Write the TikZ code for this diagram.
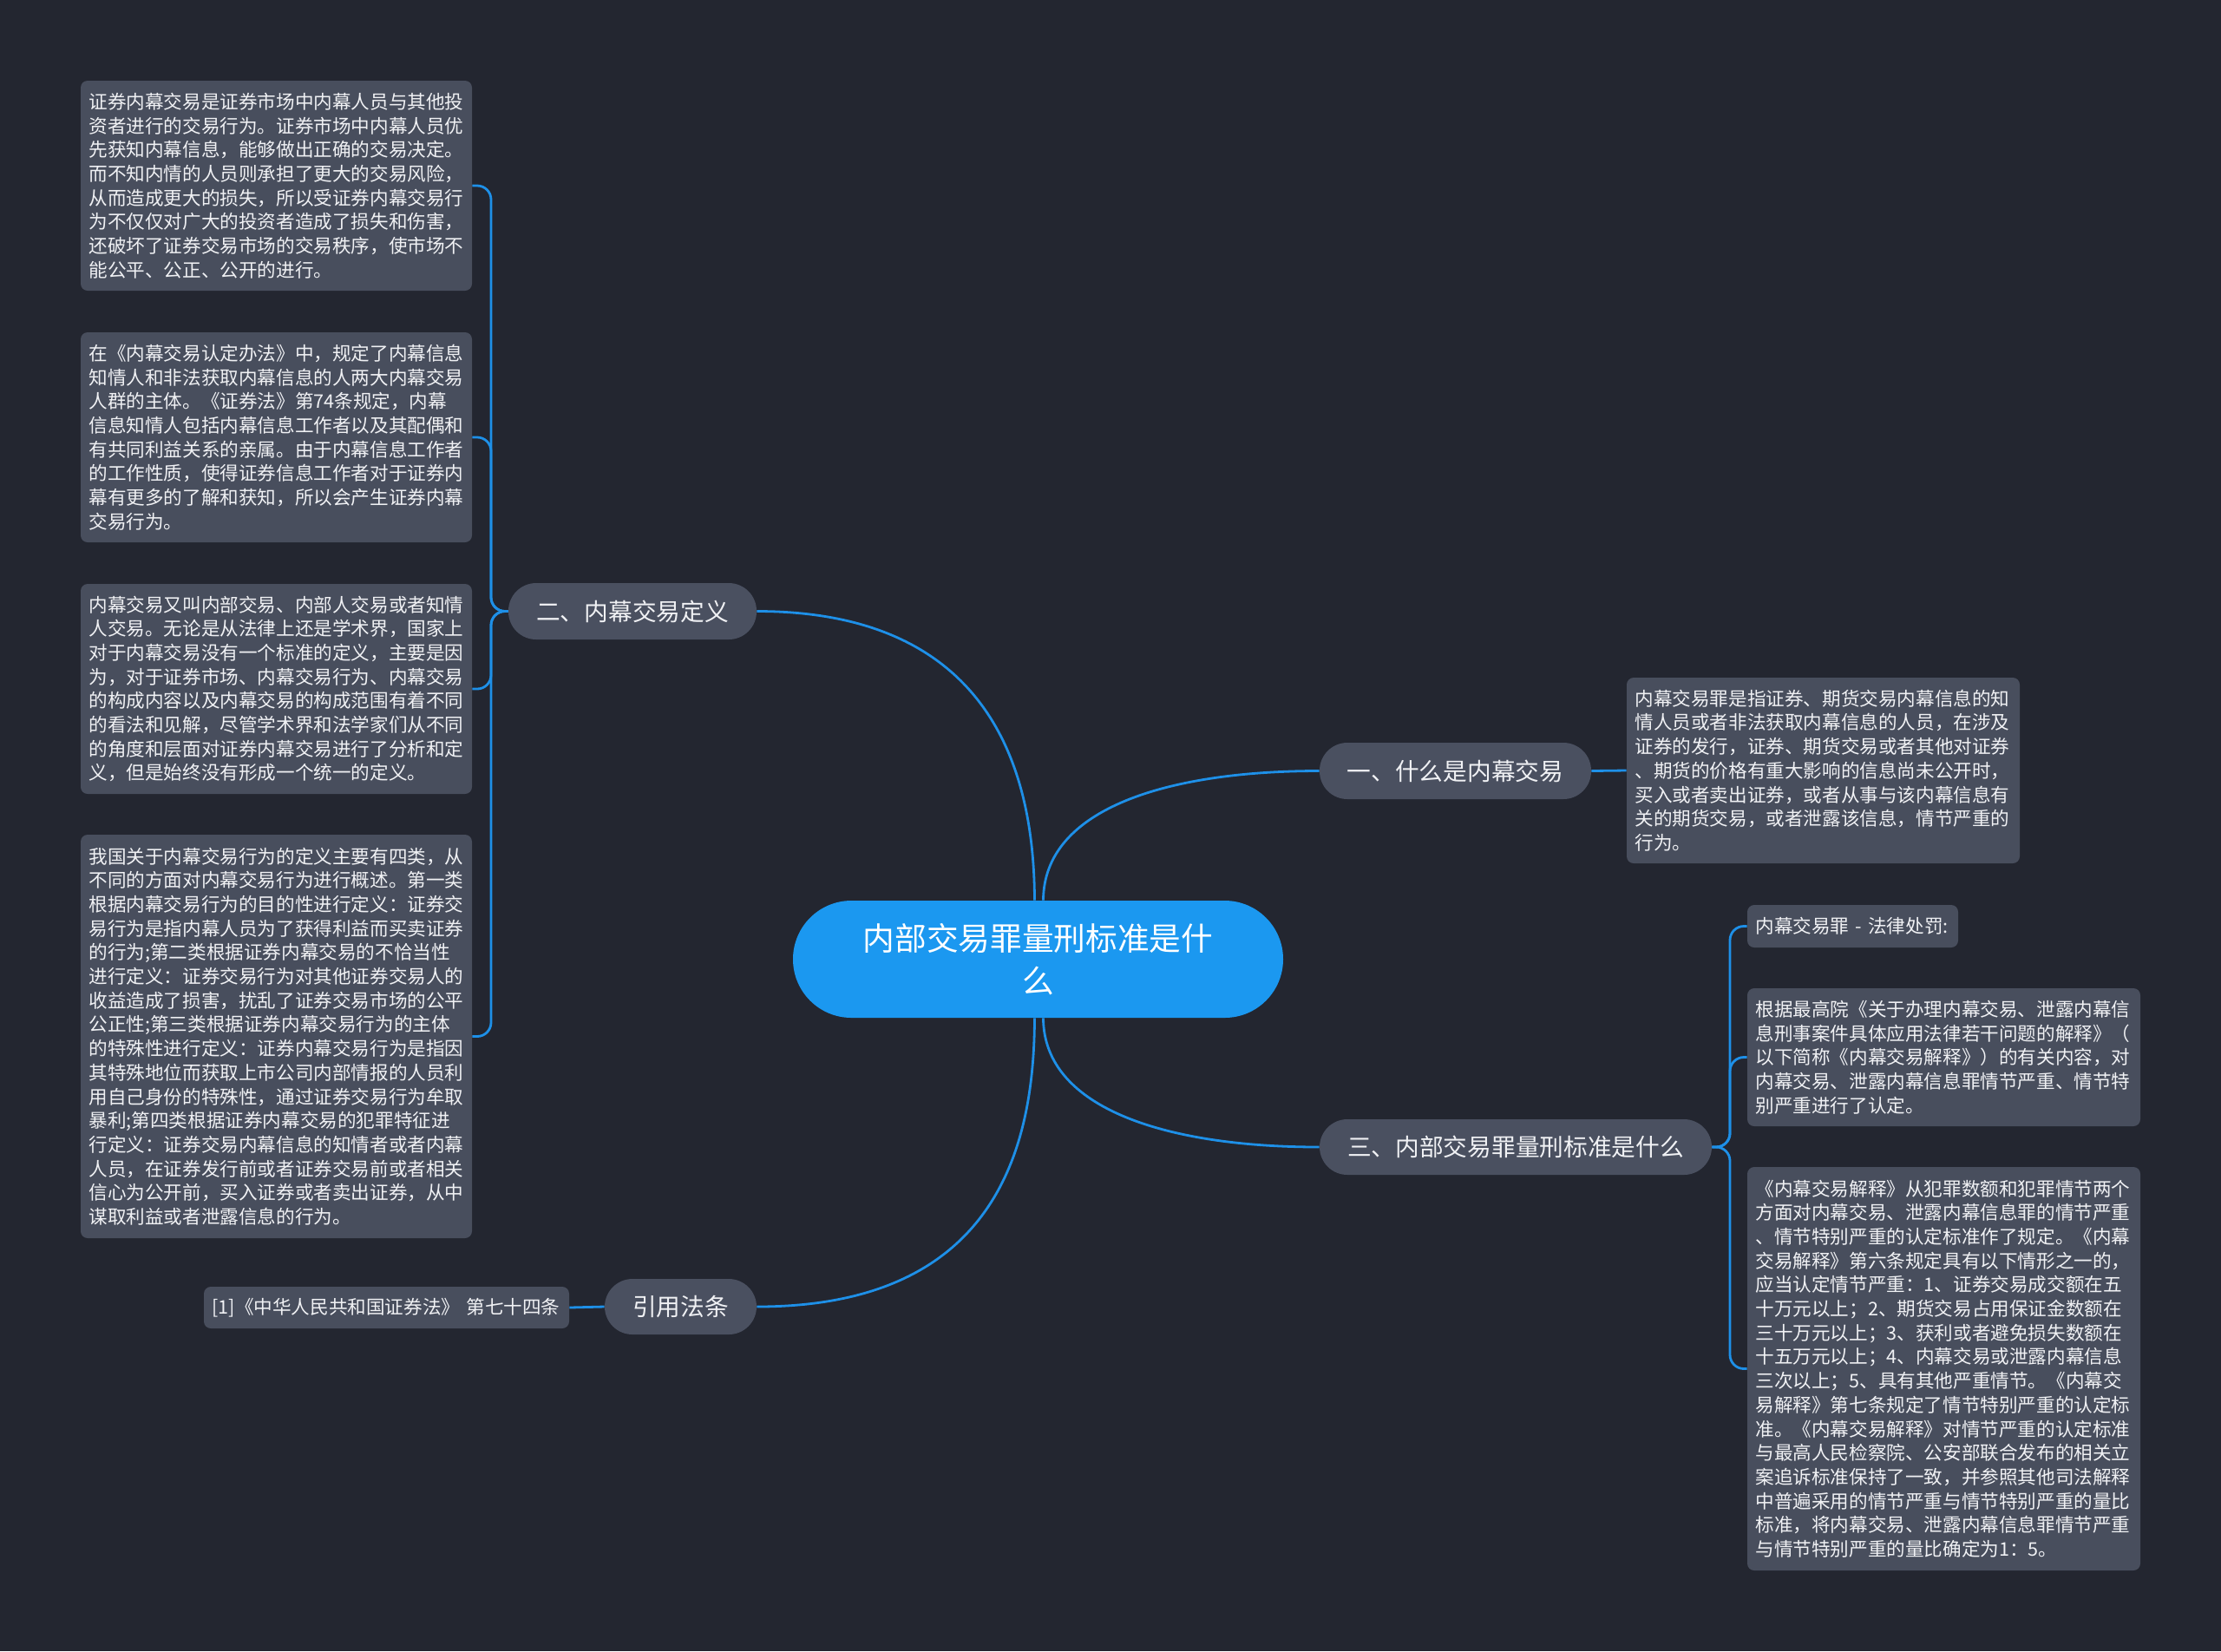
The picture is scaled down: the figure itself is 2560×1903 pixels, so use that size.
\documentclass[tikz,border=0pt]{standalone}
\usepackage{fontspec}
\setmainfont{Noto Sans CJK SC}
\definecolor{bgc}{RGB}{35,38,48}
\definecolor{leafc}{RGB}{72,78,93}
\definecolor{pillc}{RGB}{74,80,96}
\definecolor{txtc}{RGB}{240,241,244}
\definecolor{linec}{RGB}{30,144,232}
\definecolor{rootc}{RGB}{27,152,240}
\begin{document}
\begin{tikzpicture}[x=0.5pt,y=-0.5pt,
  leaf/.style={fill=leafc, rounded corners=4pt, text=txtc, align=left,
    inner xsep=4.7pt, inner ysep=0pt, anchor=center,
    font=\fontsize{10.8pt}{13.85pt}\selectfont},
  pill/.style={fill=pillc, text=txtc, inner sep=0pt, anchor=center,
    rounded corners=16pt, font=\fontsize{13.85pt}{16pt}\selectfont},
  rootbox/.style={fill=rootc, text=white, inner sep=0pt, anchor=center,
    rounded corners=33.7pt, align=center,
    font=\fontsize{18.35pt}{24.5pt}\selectfont},
  link/.style={draw=linec, line width=1.4pt},
  elbow/.style={link, rounded corners=8pt},
]
\fill[bgc] (0,0) rectangle (2560,1903);
\path[use as bounding box] (0,0) rectangle (2560,1903);

% root
\node[rootbox, minimum width=282.5pt, minimum height=67.5pt] (root) at (1196.5,1105.5)
  {内部交易罪量刑标准是什\\么};

% branches
\node[pill, minimum width=143pt, minimum height=32.5pt] (b2) at (729,704.5) {二、内幕交易定义};
\node[pill, minimum width=156.5pt, minimum height=32.5pt] (b1) at (1677.5,888.5) {一、什么是内幕交易};
\node[pill, minimum width=226pt, minimum height=32pt] (b3) at (1747,1322) {三、内部交易罪量刑标准是什么};
\node[pill, minimum width=87.5pt, minimum height=32pt] (b4) at (784.5,1506) {引用法条};

% left leaves
\node[leaf, minimum width=225.5pt, text width=216.1pt, minimum height=121pt] (L1) at (318.5,214) {%
证券内幕交易是证券市场中内幕人员与其他投\\
资者进行的交易行为。证券市场中内幕人员优\\
先获知内幕信息，能够做出正确的交易决定。\\
而不知内情的人员则承担了更大的交易风险，\\
从而造成更大的损失，所以受证券内幕交易行\\
为不仅仅对广大的投资者造成了损失和伤害，\\
还破坏了证券交易市场的交易秩序，使市场不\\
能公平、公正、公开的进行。};

\node[leaf, minimum width=225.5pt, text width=216.1pt, minimum height=121pt] (L2) at (318.5,504) {%
在《内幕交易认定办法》中，规定了内幕信息\\
知情人和非法获取内幕信息的人两大内幕交易\\
人群的主体。《证券法》第74条规定，内幕\\
信息知情人包括内幕信息工作者以及其配偶和\\
有共同利益关系的亲属。由于内幕信息工作者\\
的工作性质，使得证券信息工作者对于证券内\\
幕有更多的了解和获知，所以会产生证券内幕\\
交易行为。};

\node[leaf, minimum width=225.5pt, text width=216.1pt, minimum height=121pt] (L3) at (318.5,794) {%
内幕交易又叫内部交易、内部人交易或者知情\\
人交易。无论是从法律上还是学术界，国家上\\
对于内幕交易没有一个标准的定义，主要是因\\
为，对于证券市场、内幕交易行为、内幕交易\\
的构成内容以及内幕交易的构成范围有着不同\\
的看法和见解，尽管学术界和法学家们从不同\\
的角度和层面对证券内幕交易进行了分析和定\\
义，但是始终没有形成一个统一的定义。};

\node[leaf, minimum width=225.5pt, text width=216.1pt, minimum height=232.5pt] (L4) at (318.5,1194.5) {%
我国关于内幕交易行为的定义主要有四类，从\\
不同的方面对内幕交易行为进行概述。第一类\\
根据内幕交易行为的目的性进行定义：证券交\\
易行为是指内幕人员为了获得利益而买卖证券\\
的行为;第二类根据证券内幕交易的不恰当性\\
进行定义：证券交易行为对其他证券交易人的\\
收益造成了损害，扰乱了证券交易市场的公平\\
公正性;第三类根据证券内幕交易行为的主体\\
的特殊性进行定义：证券内幕交易行为是指因\\
其特殊地位而获取上市公司内部情报的人员利\\
用自己身份的特殊性，通过证券交易行为牟取\\
暴利;第四类根据证券内幕交易的犯罪特征进\\
行定义：证券交易内幕信息的知情者或者内幕\\
人员，在证券发行前或者证券交易前或者相关\\
信心为公开前，买入证券或者卖出证券，从中\\
谋取利益或者泄露信息的行为。};

\node[leaf, minimum width=210.5pt, text width=201pt, minimum height=24pt] (C1) at (445.5,1507) {%
[1]《中华人民共和国证券法》 第七十四条};

% right leaves
\node[leaf, minimum width=226.5pt, text width=217.1pt, minimum height=107pt] (R1) at (2101.5,888) {%
内幕交易罪是指证券、期货交易内幕信息的知\\
情人员或者非法获取内幕信息的人员，在涉及\\
证券的发行，证券、期货交易或者其他对证券\\
、期货的价格有重大影响的信息尚未公开时，\\
买入或者卖出证券，或者从事与该内幕信息有\\
关的期货交易，或者泄露该信息，情节严重的\\
行为。};

\node[leaf, minimum width=121.5pt, text width=112.1pt, minimum height=24.5pt] (R2) at (2135.5,1067.5) {%
内幕交易罪 - 法律处罚:};

\node[leaf, minimum width=226.5pt, text width=217.1pt, minimum height=79.5pt] (R3) at (2240.5,1218.5) {%
根据最高院《关于办理内幕交易、泄露内幕信\\
息刑事案件具体应用法律若干问题的解释》（\\
以下简称《内幕交易解释》）的有关内容，对\\
内幕交易、泄露内幕信息罪情节严重、情节特\\
别严重进行了认定。};

\node[leaf, minimum width=226.5pt, text width=217.1pt, minimum height=232.5pt] (R4) at (2240.5,1577.5) {%
《内幕交易解释》从犯罪数额和犯罪情节两个\\
方面对内幕交易、泄露内幕信息罪的情节严重\\
、情节特别严重的认定标准作了规定。《内幕\\
交易解释》第六条规定具有以下情形之一的，\\
应当认定情节严重：1、证券交易成交额在五\\
十万元以上；2、期货交易占用保证金数额在\\
三十万元以上；3、获利或者避免损失数额在\\
十五万元以上；4、内幕交易或泄露内幕信息\\
三次以上；5、具有其他严重情节。《内幕交\\
易解释》第七条规定了情节特别严重的认定标\\
准。《内幕交易解释》对情节严重的认定标准\\
与最高人民检察院、公安部联合发布的相关立\\
案追诉标准保持了一致，并参照其他司法解释\\
中普遍采用的情节严重与情节特别严重的量比\\
标准，将内幕交易、泄露内幕信息罪情节严重\\
与情节特别严重的量比确定为1：5。};

% root connectors
\draw[link] ([xshift=-2pt]root.north) .. controls (1192,900) and (1150,704.5) .. (b2.east);
\draw[link] ([xshift=3pt]root.north) .. controls (1203,930) and (1350,888.5) .. (b1.west);
\draw[link] ([xshift=3pt]root.south) .. controls (1203,1280) and (1350,1322) .. (b3.west);
\draw[link] ([xshift=-2pt]root.south) .. controls (1192,1320) and (1150,1506) .. (b4.east);

% branch to leaves
\draw[elbow] (b2.west) -| (566,214) -- (L1.east);
\draw[elbow] (b2.west) -| (566,504) -- (L2.east);
\draw[elbow] (b2.west) -| (566,794) -- (L3.east);
\draw[elbow] (b2.west) -| (566,1194.5) -- (L4.east);
\draw[link] (b4.west) -- (C1.east);
\draw[link] (b1.east) -- (R1.west);
\draw[elbow] (b3.east) -| (1994,1067.5) -- (R2.west);
\draw[elbow] (b3.east) -| (1994,1218.5) -- (R3.west);
\draw[elbow] (b3.east) -| (1994,1577.5) -- (R4.west);
\end{tikzpicture}
\end{document}
